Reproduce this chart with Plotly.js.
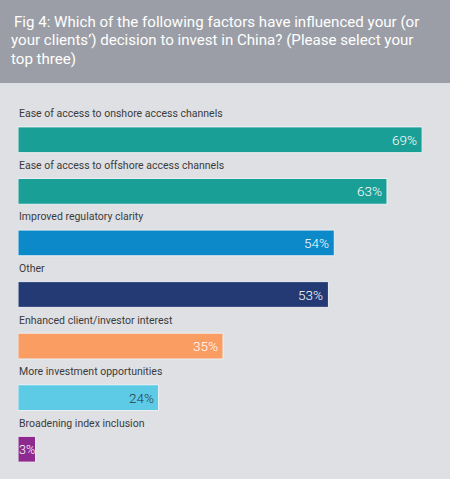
<!DOCTYPE html>
<html>
<head>
<meta charset="utf-8">
<script src="https://cdn.plot.ly/plotly-3.0.1.min.js"></script>
<style>html,body{margin:0;padding:0;background:#dfe0e3;overflow:hidden;}#chart{width:450px;height:479px;}</style>
</head>
<body>
<div id="chart"></div>
<script>
const categories = [
  "Ease of access to onshore access channels",
  "Ease of access to offshore access channels",
  "Improved regulatory clarity",
  "Other",
  "Enhanced client/investor interest",
  "More investment opportunities",
  "Broadening index inclusion"
];
const values = [69, 63, 54, 53, 35, 24, 3];
const valueLabels = ["69%", "63%", "54%", "53%", "35%", "24%", "3%"];
const barColors = ["#1a9f97", "#1a9f97", "#0b89c9", "#233a74", "#f99d62", "#5ecbe6", "#8e2a8f"];
const labelColors = ["#ffffff", "#ffffff", "#ffffff", "#ffffff", "#ffffff", "#2b3a4a", "#ffffff"];
const titleLines = [
  "Fig 4: Which of the following factors have influenced your (or",
  "your clients’) decision to invest in China? (Please select your",
  "top three)"
];

const labelFont = "Roboto, Arial, sans-serif";

const trace = {
  type: "bar",
  orientation: "h",
  x: values,
  y: categories,
  marker: { color: barColors, line: { color: "#eef0f2", width: 1 } },
  hoverinfo: "none",
  showlegend: false
};

// plot area: top 114px, bottom 475px
const plotTop = 114, plotBottom = 475, plotH = plotBottom - plotTop;
const toPaperY = (py) => (plotBottom - py) / plotH;

const annotations = [];
categories.forEach((c, i) => {
  annotations.push({
    x: 0, y: c, xref: "x", yref: "y",
    text: c, showarrow: false,
    xanchor: "left", yanchor: "middle", yshift: 26, xshift: -1,
    font: { family: labelFont, size: 10.5, color: "#3b3b3d" }
  });
  const small = values[i] < 5;
  annotations.push({
    x: small ? values[i] / 2 : values[i], y: c, xref: "x", yref: "y",
    text: valueLabels[i], showarrow: false,
    xanchor: small ? "center" : "right", yanchor: "middle", xshift: small ? 0 : -3,
    font: { family: labelFont, size: small ? 12.5 : 13.5, weight: 300, color: labelColors[i] }
  });
});

const titleCenters = [22, 40, 58.5];
titleLines.forEach((t, i) => {
  annotations.push({
    x: -9 / 410, xref: "paper", y: toPaperY(titleCenters[i]), yref: "paper",
    text: t, showarrow: false, xanchor: "left", yanchor: "middle",
    xshift: i === 0 ? 3 : 0,
    font: { family: labelFont, size: 15.1, color: "#ffffff" }
  });
});

const layout = {
  width: 450, height: 479,
  margin: { l: 18, r: 22, t: plotTop, b: 479 - plotBottom, pad: 0 },
  paper_bgcolor: "#dfe0e3",
  plot_bgcolor: "rgba(0,0,0,0)",
  bargap: 0.5,
  xaxis: { range: [0, 70], visible: false, fixedrange: true },
  yaxis: { range: [6.5, -0.5], visible: false, fixedrange: true },
  shapes: [{
    type: "rect", xref: "paper", yref: "paper", layer: "below",
    x0: -0.1, x1: 1.1, y0: toPaperY(83), y1: 1.5,
    fillcolor: "#9b9ea6", line: { width: 0 }
  }],
  annotations: annotations
};

Plotly.newPlot("chart", [trace], layout, { displayModeBar: false, staticPlot: true });
</script>
</body>
</html>
